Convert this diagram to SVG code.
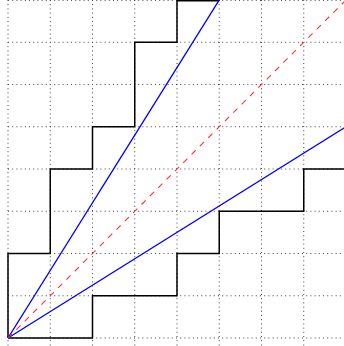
<svg xmlns="http://www.w3.org/2000/svg" width="344" height="346" viewBox="0 0 344 346">
<style>
.grid{stroke:#444;stroke-width:1;stroke-dasharray:1 3.2;fill:none}
.stair{stroke:#000;stroke-width:1.5;fill:none;stroke-linejoin:miter}
.blue{stroke:#0000ff;stroke-width:1.4;fill:none}
.red{stroke:#ff3030;stroke-width:1.1;stroke-dasharray:5.9 5.9;fill:none}
</style>
<rect width="344" height="346" fill="#fff"/>
<g id="grid" class="grid">
<path d="M8,0V346M50.25,0V346M92.5,0V346M134.75,0V346M177,0V346M219.25,0V346M261.5,0V346M303.75,0V346"/>
<path d="M8,338H344M8,295.75H344M8,253.5H344M8,211.25H344M8,169H344M8,126.75H344M8,84.5H344M8,42.25H344M8,0.4H344"/>
</g>
<g id="upper-staircase">
<path class="stair" d="M8,338V253.5H50.25V169H92.5V126.75H134.75V42.25H177V0.7H219.25"/>
</g>
<g id="lower-staircase">
<path class="stair" d="M8,338H92.5V295.75H177V253.5H219.25V211.25H303.75V169H346"/>
</g>
<g id="connectors">
<path class="blue" d="M8,338L219.25,0"/>
<path class="blue" d="M8,338L346,126.75"/>
<path class="red" stroke="#ff3030" d="M8,338L346,0"/>
</g>
</svg>
